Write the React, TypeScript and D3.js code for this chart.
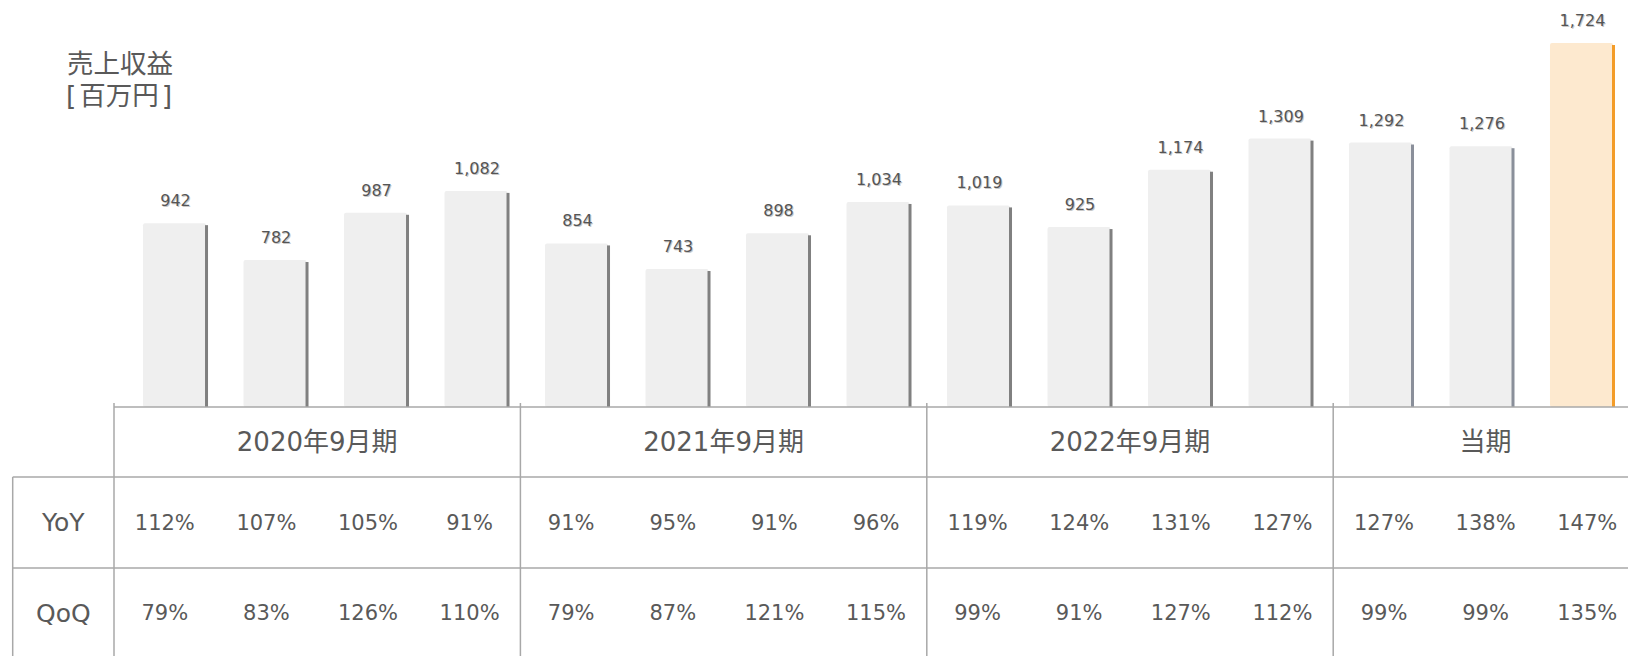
import React from "react";
import * as d3 from "d3";

const quarters = ["1Q", "2Q", "3Q", "4Q", "1Q", "2Q", "3Q", "4Q", "1Q", "2Q", "3Q", "4Q", "1Q", "2Q", "3Q"];
const revenue = [942, 782, 987, 1082, 854, 743, 898, 1034, 1019, 925, 1174, 1309, 1292, 1276, 1724];
const yoy = [112, 107, 105, 91, 91, 95, 91, 96, 119, 124, 131, 127, 127, 138, 147];
const qoq = [79, 83, 126, 110, 79, 87, 121, 115, 99, 91, 127, 112, 99, 99, 135];
const fiscalYears = ["2020年9月期", "2021年9月期", "2022年9月期", "当期"];
const groupSizes = [4, 4, 4, 4];
const rowLabels = ["YoY", "QoQ"];
const titleMain = "売上収益";
const titleUnit = "百万円";

const W = 1628;
const H = 656;
const TXT = "#595959";
const LINE = "#a8a8a8";
const LATIN = "'DejaVu Sans', 'Noto Sans CJK JP', sans-serif";

export default function App() {
  const idx = quarters.map((_, i) => i);
  const y = d3.scaleLinear().domain([144, 1724]).range([407, 43]);
  const xb = d3.scaleBand<number>().domain(idx).range([143, 1615]).paddingInner(0.353).paddingOuter(0);
  const xc = d3.scaleBand<number>().domain(idx).range([114, 114 + 15 * 101.6]).padding(0);
  const bw = xb.bandwidth();
  const fmt = d3.format(",");

  const tableTop = 407;
  const headBottom = 477;
  const yoyBottom = 568;
  const leftLine = 12.7;

  let start = 0;
  const groups = fiscalYears.map((name, g) => {
    const s = start;
    start += groupSizes[g];
    return { name, s, e: start };
  });

  return (
    <svg width={W} height={H} style={{ position: "absolute", left: 0, top: 0, display: "block", background: "#fff" }}>
      <text x={67} y={63} dominantBaseline="central" fontFamily={LATIN} fontSize={26.5} fill={TXT}>
        {titleMain}
      </text>
      <text x={66} y={95} dominantBaseline="central" fontFamily={LATIN} fontSize={26.5} fill={TXT}>
        <tspan>[</tspan>
        <tspan dx={3}>{titleUnit}</tspan>
        <tspan dx={3}>]</tspan>
      </text>

      {revenue.map((v, i) => {
        const x0 = xb(i)!;
        const top = y(v);
        const last = i === revenue.length - 1;
        return (
          <g key={i}>
            <rect x={x0} y={top} width={bw - 2} height={407 - top} rx={2} fill={last ? "#fde9cf" : "#efefef"} />
            <rect x={x0 + bw - 3} y={top + 2} width={3} height={407 - top - 2} fill={last ? "#f39c28" : i >= 12 ? "#8a8f9a" : "#808080"} />
            <text x={x0 + bw / 2 + 1} y={top - 16} textAnchor="middle" fontFamily={LATIN} fontSize={16} fill="#c8c8c8">
              {fmt(v)}
            </text>
            <text x={x0 + bw / 2} y={top - 17} textAnchor="middle" fontFamily={LATIN} fontSize={16} fill="#555555">
              {fmt(v)}
            </text>
          </g>
        );
      })}

      {/* table lines */}
      <line x1={114} x2={W} y1={tableTop} y2={tableTop} stroke={LINE} strokeWidth={1.5} />
      <line x1={leftLine} x2={W} y1={headBottom} y2={headBottom} stroke={LINE} strokeWidth={1.5} />
      <line x1={leftLine} x2={W} y1={yoyBottom} y2={yoyBottom} stroke={LINE} strokeWidth={1.5} />
      <line x1={leftLine} x2={leftLine} y1={headBottom} y2={H} stroke={LINE} strokeWidth={1.5} />
      {groups.map((g) => (
        <line key={g.name} x1={xc(g.s)!} x2={xc(g.s)!} y1={403} y2={H} stroke={LINE} strokeWidth={1.5} />
      ))}

      {groups.map((g) => {
        const clipped = Math.min(g.e, quarters.length);
        const cx = (xc(g.s)! + xc(clipped - 1)! + xc.step()) / 2;
        return (
          <text key={g.name} x={cx} y={442} textAnchor="middle" dominantBaseline="central" fontFamily={LATIN} fontSize={26} fill={TXT}>
            {g.name}
          </text>
        );
      })}

      {rowLabels.map((r, ri) => (
        <text key={r} x={(leftLine + 114) / 2} y={ri === 0 ? 522.5 : 613} textAnchor="middle" dominantBaseline="central" fontFamily={LATIN} fontSize={25} fill={TXT}>
          {r}
        </text>
      ))}

      {[yoy, qoq].map((row, ri) =>
        row.map((v, i) => (
          <text key={ri + "-" + i} x={xc(i)! + xc.bandwidth() / 2} y={ri === 0 ? 522.5 : 613} textAnchor="middle" dominantBaseline="central" fontFamily={LATIN} fontSize={21} fill={TXT}>
            {v + "%"}
          </text>
        ))
      )}
    </svg>
  );
}
